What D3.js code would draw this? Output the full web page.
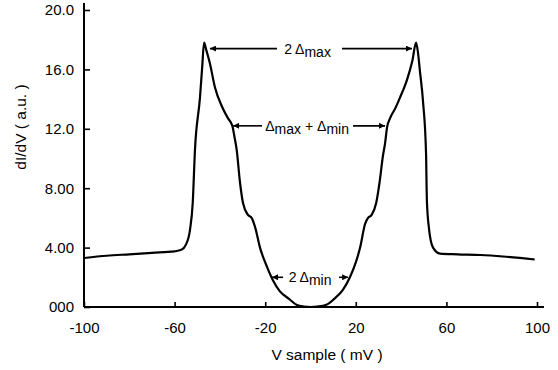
<!DOCTYPE html>
<html>
<head>
<meta charset="utf-8">
<script src="https://cdn.jsdelivr.net/npm/d3@7"></script>
<style>
  body { margin: 0; background: #fff; }
  text { font-family: "Liberation Sans", Arial, sans-serif; fill: #000; }
</style>
</head>
<body>
<script>
// === data ===
const vSample = [-100, -90, -80, -70, -60, -57, -55, -53.2, -52, -51, -48.8, -47.8, -47, -46, -44.4, -42.2, -39.1, -36.4,
  -34.5, -33.5, -32.6, -31.1, -29.8, -27.6, -26, -24.5, -22.3, -19.2, -16.6, -13.5, -9.5, -6, -3, 0, 3, 7, 10.5,
  14.3, 17.4, 20, 21.9, 24.1, 25.4, 27, 29, 30.5, 32, 32.9, 33.8, 35.1, 37.5, 39.5, 42.6, 45, 46.6, 47.4, 48.3,
  49.7, 51, 51.4, 52.3, 54.1, 57.2, 65, 75, 85, 99]
const dIdV = [3.3, 3.45, 3.55, 3.65, 3.75, 3.85, 4.2, 5.2, 7.0, 10.6, 14.1, 16.2, 17.8, 17.3, 16.4, 14.8, 13.5, 12.7,
  12.2, 11.4, 10.6, 8.35, 7.0, 6.2, 6.0, 5.4, 4.0, 2.7, 1.8, 1.05, 0.55, 0.13, 0.03, 0.0, 0.03, 0.15, 0.55,
  1.15, 2.0, 3.0, 4.0, 5.6, 6.0, 6.2, 7.0, 8.4, 10.2, 11.0, 12.1, 12.7, 13.4, 14.1, 15.3, 16.6, 17.8, 17.2, 15.9,
  13.8, 10.4, 7.1, 5.3, 4.0, 3.6, 3.55, 3.5, 3.4, 3.2]

const xTicks = [-100, -60, -20, 20, 60, 100]
const yTicks = [0, 4, 8, 12, 16, 20]
const yTickLabels = ["000", "4.00", "8.00", "12.0", "16.0", "20.0"]

// annotations: text parts (0 normal, 1 subscript, -1 back up), y value, arrows in mV, text center
const notes = [
  { parts: [["2 Δ", 0], ["max", 1]], y: 17.4, left: [-44.4, -14.8], right: [13.9, 44.8], cx: -1.3 },
  { parts: [["Δ", 0], ["max", 1], [" + Δ", -1], ["min", 1]], y: 12.2, left: [-34.2, -21.4], right: [18.8, 32.9], cx: -1.5 },
  { parts: [["2 Δ", 0], ["min", 1]], y: 2.0, left: [-17, -12.1], right: [12.6, 16.6], cx: -0.2 }
]

const W = 558, H = 370

const svg = d3.select("body").append("svg")
  .attr("width", W)
  .attr("height", H)

const x = d3.scaleLinear().domain([-100, 100]).range([84, 537])
const y = d3.scaleLinear().domain([0, 20]).range([307, 10])

// arrow head
svg.append("defs").append("marker")
  .attr("id", "head")
  .attr("viewBox", "0 0 10 10")
  .attr("refX", 10).attr("refY", 5)
  .attr("markerWidth", 7).attr("markerHeight", 6)
  .attr("markerUnits", "userSpaceOnUse")
  .attr("orient", "auto")
  .append("path").attr("d", "M0,0L10,5L0,10Z").attr("fill", "#000")

// X axis
const gx = svg.append("g")
  .attr("transform", "translate(0," + y(0) + ")")
  .call(d3.axisBottom(x).tickValues(xTicks).tickSize(-5).tickPadding(15).tickFormat(d => String(d)))
gx.select(".domain").remove()
gx.append("line").attr("x1", x(-100)).attr("x2", 544).attr("stroke", "#000").attr("stroke-width", 2)
gx.selectAll(".tick line").attr("stroke-width", 1.6)
gx.selectAll("text").attr("font-size", 15).attr("font-family", null)

// Y axis
const gy = svg.append("g")
  .attr("transform", "translate(" + x(-100) + ",0)")
  .call(d3.axisLeft(y).tickValues(yTicks).tickSize(-6).tickPadding(10).tickFormat((d, i) => yTickLabels[i]))
gy.select(".domain").remove()
gy.append("line").attr("y1", y(0)).attr("y2", 3).attr("stroke", "#000").attr("stroke-width", 2)
gy.selectAll(".tick line").attr("stroke-width", 1.6)
gy.selectAll("text").attr("font-size", 15).attr("font-family", null)

// axis titles
svg.append("text")
  .attr("x", 327).attr("y", 360)
  .attr("text-anchor", "middle")
  .attr("font-size", 15.5)
  .text("V sample ( mV )")

svg.append("text")
  .attr("transform", "translate(26,127) rotate(-90)")
  .attr("text-anchor", "middle")
  .attr("font-size", 15.5)
  .text("dI/dV ( a.u. )")

// the curve
const pts = vSample.map((v, i) => [v, dIdV[i]])
const line = d3.line()
  .x(d => x(d[0]))
  .y(d => y(d[1]))
  .curve(d3.curveMonotoneX)

svg.append("path")
  .datum(pts)
  .attr("d", line)
  .attr("fill", "none")
  .attr("stroke", "#000")
  .attr("stroke-width", 2.2)
  .attr("stroke-linejoin", "round")

// annotations
notes.forEach(n => {
  const t = svg.append("text")
    .attr("x", x(n.cx)).attr("y", y(n.y) + 5)
    .attr("text-anchor", "middle")
    .attr("font-size", 14)
  n.parts.forEach(p => {
    t.append("tspan")
      .attr("dy", p[1] === 1 ? 3 : (p[1] === -1 ? -3 : 0))
      .text(p[0])
  })
  svg.append("line")
    .attr("x1", x(n.left[1])).attr("x2", x(n.left[0]))
    .attr("y1", y(n.y)).attr("y2", y(n.y))
    .attr("stroke", "#000").attr("stroke-width", 1.6)
    .attr("marker-end", "url(#head)")
  svg.append("line")
    .attr("x1", x(n.right[0])).attr("x2", x(n.right[1]))
    .attr("y1", y(n.y)).attr("y2", y(n.y))
    .attr("stroke", "#000").attr("stroke-width", 1.6)
    .attr("marker-end", "url(#head)")
})
</script>
</body>
</html>
